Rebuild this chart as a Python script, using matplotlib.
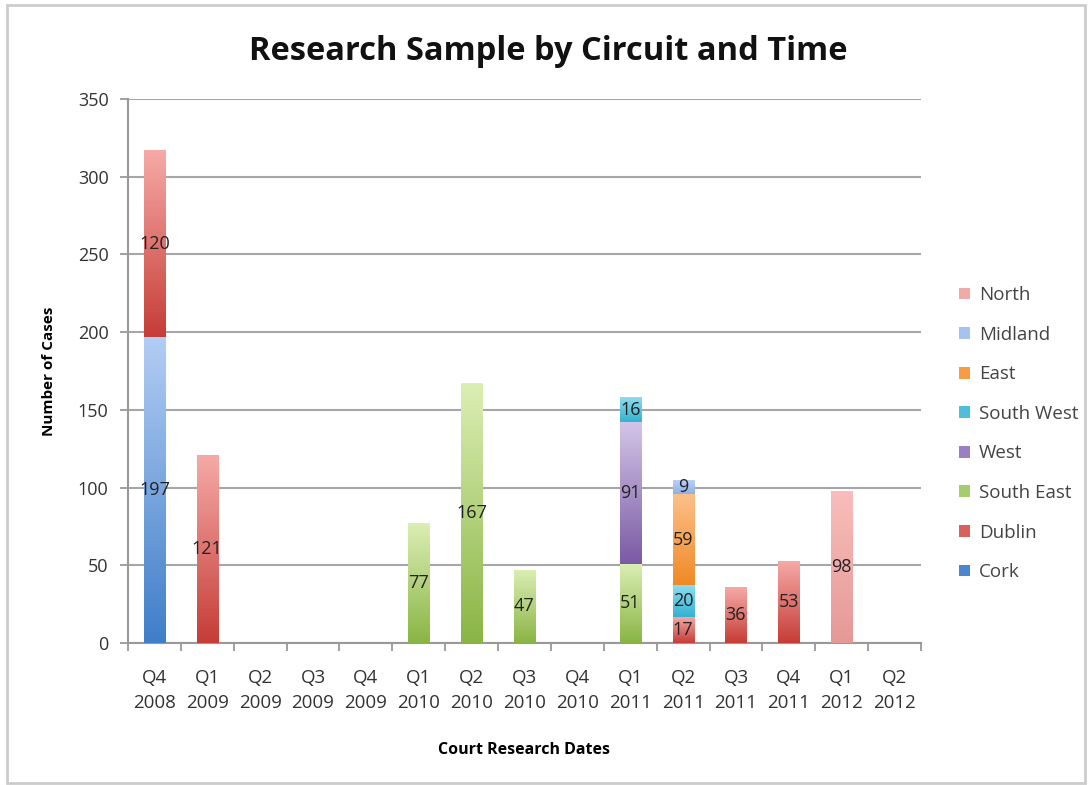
import matplotlib.pyplot as plt
import numpy as np
from matplotlib.colors import LinearSegmentedColormap
from matplotlib.patches import Patch, Rectangle

plt.rcParams['font.family'] = ['Open Sans', 'DejaVu Sans']

# quarter labels along the x axis
quarters = ['Q4\n2008', 'Q1\n2009', 'Q2\n2009', 'Q3\n2009', 'Q4\n2009',
            'Q1\n2010', 'Q2\n2010', 'Q3\n2010', 'Q4\n2010', 'Q1\n2011',
            'Q2\n2011', 'Q3\n2011', 'Q4\n2011', 'Q1\n2012', 'Q2\n2012']

# cases per circuit (stack order bottom -> top)
cork = [197, 0, 0, 0, 0, 0, 0, 0, 0, 0, 0, 0, 0, 0, 0]
dublin = [120, 121, 0, 0, 0, 0, 0, 0, 0, 0, 17, 36, 53, 0, 0]
south_east = [0, 0, 0, 0, 0, 77, 167, 47, 0, 51, 0, 0, 0, 0, 0]
west = [0, 0, 0, 0, 0, 0, 0, 0, 0, 91, 0, 0, 0, 0, 0]
south_west = [0, 0, 0, 0, 0, 0, 0, 0, 0, 16, 20, 0, 0, 0, 0]
east = [0, 0, 0, 0, 0, 0, 0, 0, 0, 0, 59, 0, 0, 0, 0]
midland = [0, 0, 0, 0, 0, 0, 0, 0, 0, 0, 9, 0, 0, 0, 0]
north = [0, 0, 0, 0, 0, 0, 0, 0, 0, 0, 0, 0, 0, 98, 0]

series = [
    ('Cork', cork, '#3f7fc8', '#b3cdf4', '#4a87cf'),
    ('Dublin', dublin, '#c63d37', '#f6aaa7', '#d9605b'),
    ('South East', south_east, '#8ab545', '#dbeeb4', '#a7cc6b'),
    ('West', west, '#7a5aa4', '#d3c5e7', '#9a80c2'),
    ('South West', south_west, '#34b2d1', '#8ddcee', '#4ebfdb'),
    ('East', east, '#f08a26', '#fcc08a', '#f79b45'),
    ('Midland', midland, '#8fb1e8', '#b9d0f4', '#a6c3ef'),
    ('North', north, '#e59997', '#f9bdbb', '#f2aaa8'),
]

fig = plt.figure(figsize=(10.88, 7.85), dpi=100)
ax = fig.add_axes([0.1176, 0.1809, 0.7289, 0.6930])

x = np.arange(len(quarters))
bottom = np.zeros(len(quarters))
grad = np.linspace(0, 1, 100).reshape(-1, 1)
for name, vals, dark, light, mid in series:
    vals = np.array(vals, dtype=float)
    bars = ax.bar(x, vals, bottom=bottom, width=0.4, color='none', linewidth=0, zorder=3)
    cmap = LinearSegmentedColormap.from_list(name, [dark, light])
    for rect, v in zip(bars, vals):
        if v <= 0:
            continue
        x0, y0 = rect.get_x(), rect.get_y()
        im = ax.imshow(grad, extent=[x0, x0 + rect.get_width(), y0, y0 + v],
                       origin='lower', aspect='auto', cmap=cmap, zorder=3)
        im.set_clip_path(rect)
        ax.text(x0 + rect.get_width() / 2, y0 + v / 2, f'{int(v)}',
                ha='center', va='center', fontsize=13, color='#222222', zorder=5)
    bottom += vals

ax.set_xlim(-0.5, len(quarters) - 0.5)
ax.set_ylim(0, 350)
ax.set_yticks(np.arange(0, 351, 50))
ax.set_xticks(x)
ax.set_xticklabels(quarters, linespacing=1.45)
ax.set_xticks(np.arange(-0.5, len(quarters), 1), minor=True)
ax.tick_params(axis='x', which='major', length=0, pad=19, labelsize=13.5, labelcolor='#333333')
ax.tick_params(axis='x', which='minor', length=6, width=1.3, color='#999999', direction='out')
ax.tick_params(axis='y', length=6, width=1.3, color='#999999', labelsize=13,
               labelcolor='#333333', pad=8)

ax.grid(axis='y', color='#a6a6a6', linewidth=1.5, zorder=0)
ax.set_axisbelow(True)
for s in ['top', 'right']:
    ax.spines[s].set_visible(False)
for s in ['left', 'bottom']:
    ax.spines[s].set_color('#999999')
    ax.spines[s].set_linewidth(1.5)

ax.set_ylabel('Number of Cases', fontsize=11, fontweight='bold', labelpad=16)
ax.set_xlabel('Court Research Dates', fontsize=11.5, fontweight='bold', labelpad=22)
fig.text(0.5036, 0.935, 'Research Sample by Circuit and Time', ha='center', va='center',
         fontsize=23.5, fontweight='bold', color='#111111')

handles = [Patch(facecolor=mid, edgecolor='none', label=name)
           for name, vals, dark, light, mid in series][::-1]
fig.legend(handles=handles, loc='upper left', bbox_to_anchor=(0.866, 0.657),
           frameon=False, fontsize=13.5, handlelength=0.6, handleheight=0.6,
           handletextpad=0.45, labelspacing=1.15, labelcolor='#444444')

fig.patches.append(Rectangle((0.0065, 0.003), 0.991, 0.99, transform=fig.transFigure,
                             fill=False, edgecolor='#cccccc', linewidth=2))

fig.savefig('out.png', dpi=100)
